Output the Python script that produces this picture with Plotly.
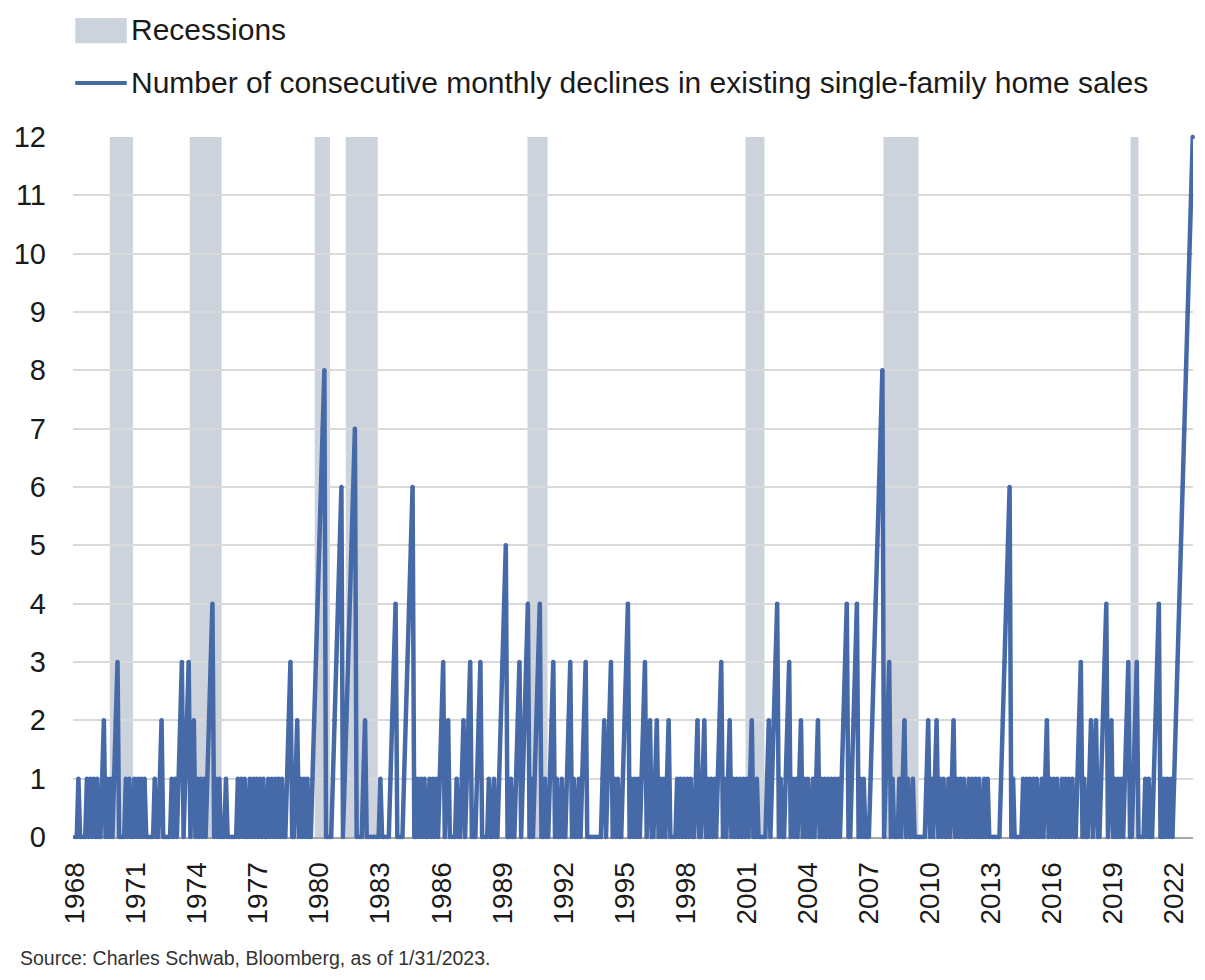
import pandas as pd
import plotly.graph_objects as go

# Number of consecutive monthly declines, Jan 1968 - Dec 2022 (one row = one year)
declines_1968_1979 = [
    0, 0, 1, 0, 0, 0, 0, 1, 0, 1, 0, 1,
    0, 1, 0, 0, 1, 2, 0, 1, 0, 1, 0, 1,
    2, 3, 0, 0, 0, 0, 1, 0, 1, 0, 0, 1,
    0, 1, 0, 1, 0, 1, 0, 0, 0, 0, 0, 1,
    0, 0, 1, 2, 0, 0, 0, 0, 0, 1, 0, 1,
    0, 1, 2, 3, 0, 1, 2, 3, 0, 1, 2, 0,
    1, 0, 1, 0, 1, 0, 1, 2, 3, 4, 0, 1,
    0, 1, 0, 0, 0, 1, 0, 0, 0, 0, 0, 0,
    1, 0, 1, 0, 1, 0, 0, 1, 0, 1, 0, 1,
    0, 1, 0, 1, 0, 0, 1, 0, 1, 0, 1, 0,
    1, 0, 1, 0, 0, 1, 2, 3, 0, 0, 1, 2,
    0, 1, 0, 1, 0, 1, 0, 0, 1, 2, 3, 4,
]
declines_1980_1989 = [
    5, 6, 7, 8, 0, 0, 0, 0, 1, 2, 3, 4,
    5, 6, 0, 1, 2, 3, 4, 5, 6, 7, 0, 0,
    0, 0, 1, 2, 0, 0, 0, 0, 0, 0, 0, 0,
    1, 0, 0, 0, 0, 0, 1, 2, 3, 4, 0, 0,
    0, 0, 1, 2, 3, 4, 5, 6, 0, 0, 1, 0,
    1, 0, 1, 0, 0, 1, 0, 1, 0, 1, 0, 1,
    2, 3, 0, 1, 2, 0, 0, 0, 0, 1, 0, 0,
    1, 2, 0, 1, 2, 3, 0, 0, 0, 1, 2, 3,
    0, 0, 0, 0, 1, 0, 0, 1, 0, 0, 1, 2,
    3, 4, 5, 0, 0, 1, 0, 0, 1, 2, 3, 0,
]
declines_1990_1999 = [
    1, 2, 3, 4, 0, 1, 0, 1, 2, 3, 4, 0,
    0, 1, 0, 0, 1, 2, 3, 0, 1, 0, 0, 1,
    0, 0, 1, 2, 3, 0, 1, 0, 0, 1, 0, 1,
    2, 3, 0, 0, 0, 0, 0, 0, 0, 0, 0, 1,
    2, 0, 1, 2, 3, 0, 1, 0, 1, 0, 0, 1,
    2, 3, 4, 0, 1, 0, 1, 0, 1, 0, 1, 2,
    3, 0, 1, 2, 0, 0, 1, 2, 0, 1, 0, 1,
    0, 1, 2, 0, 0, 0, 0, 1, 0, 1, 0, 1,
    0, 1, 0, 1, 0, 0, 1, 2, 0, 0, 1, 2,
    0, 1, 0, 1, 0, 1, 0, 1, 2, 3, 0, 1,
]
declines_2000_2009 = [
    0, 1, 2, 0, 1, 0, 1, 0, 1, 0, 1, 0,
    1, 0, 1, 2, 0, 0, 1, 0, 0, 0, 0, 0,
    1, 2, 0, 1, 2, 3, 4, 0, 1, 0, 0, 1,
    2, 3, 0, 1, 0, 1, 0, 1, 2, 0, 1, 0,
    1, 0, 0, 1, 0, 1, 2, 0, 1, 0, 1, 0,
    1, 0, 1, 0, 1, 0, 1, 0, 1, 2, 3, 4,
    0, 0, 1, 2, 3, 4, 0, 1, 0, 1, 0, 0,
    0, 1, 2, 3, 4, 5, 6, 7, 8, 0, 1, 2,
    3, 0, 1, 0, 0, 0, 1, 0, 1, 2, 0, 1,
    0, 0, 1, 0, 0, 0, 0, 0, 0, 0, 1, 2,
]
declines_2010_2022 = [
    0, 1, 0, 1, 2, 0, 1, 0, 1, 0, 0, 1,
    0, 1, 2, 0, 1, 0, 1, 0, 1, 0, 0, 1,
    0, 1, 0, 1, 0, 1, 0, 0, 1, 0, 1, 0,
    0, 0, 0, 0, 0, 0, 1, 2, 3, 4, 5, 6,
    0, 1, 0, 0, 0, 0, 0, 1, 0, 1, 0, 1,
    0, 1, 0, 1, 0, 0, 1, 0, 1, 2, 0, 1,
    0, 1, 0, 1, 0, 0, 1, 0, 1, 0, 1, 0,
    1, 0, 0, 1, 2, 3, 0, 1, 0, 0, 1, 2,
    0, 1, 2, 0, 0, 1, 2, 3, 4, 0, 1, 2,
    0, 1, 0, 1, 0, 1, 0, 1, 2, 3, 0, 0,
    1, 2, 3, 0, 0, 0, 0, 1, 0, 1, 0, 0,
    1, 2, 3, 4, 0, 0, 1, 0, 1, 0, 1, 0,
    1, 2, 3, 4, 5, 6, 7, 8, 9, 10, 11, 12,
]

declines = (declines_1968_1979 + declines_1980_1989 + declines_1990_1999
            + declines_2000_2009 + declines_2010_2022)
months = pd.date_range("1968-01-01", periods=len(declines), freq="MS")

# Recession shading as drawn on the chart
rec_start = ["1969-09-15", "1973-08-20", "1979-10-10", "1981-04-20",
             "1990-03-25", "2000-12-10", "2007-09-20", "2019-11-10"]
rec_end = ["1970-11-05", "1975-03-15", "1980-07-10", "1982-11-15",
           "1991-03-20", "2001-11-15", "2009-06-10", "2020-04-01"]

tick_years = [1968, 1971, 1974, 1977, 1980, 1983, 1986, 1989, 1992,
              1995, 1998, 2001, 2004, 2007, 2010, 2013, 2016, 2019, 2022]

BLUE = "#4669a8"
GRAY = "#cdd3dc"
FONT = "Liberation Sans, Arial, sans-serif"

fig = go.Figure()
# small round markers give the rounded joins of the original line
fig.add_trace(go.Scatter(
    x=months, y=declines, mode="lines+markers",
    line=dict(color=BLUE, width=4.5),
    marker=dict(color=BLUE, size=4.5, line_width=0),
    showlegend=False, cliponaxis=False,
    name="Number of consecutive monthly declines in existing single-family home sales",
))

for s, e in zip(rec_start, rec_end):
    fig.add_vrect(x0=s, x1=e, fillcolor=GRAY, opacity=1, line_width=0, layer="below")

# hand-made legend above the plot
fig.add_shape(type="rect", xref="paper", yref="paper", x0=0.002, x1=0.048,
              y0=1.134, y1=1.170, fillcolor=GRAY, line_width=0)
fig.add_shape(type="line", xref="paper", yref="paper", x0=0.002, x1=0.048,
              y0=1.077, y1=1.077, line=dict(color=BLUE, width=4))
fig.add_annotation(text="Recessions", xref="paper", yref="paper", x=0.050, y=1.153,
                   xanchor="left", yanchor="middle", showarrow=False,
                   font=dict(size=30, color="#1a1a1a"))
fig.add_annotation(text="Number of consecutive monthly declines in existing single-family home sales",
                   xref="paper", yref="paper", x=0.050, y=1.078,
                   xanchor="left", yanchor="middle", showarrow=False,
                   font=dict(size=30, color="#1a1a1a"))
fig.add_annotation(text="Source: Charles Schwab, Bloomberg, as of 1/31/2023.",
                   xref="paper", yref="paper", x=-0.049, y=-0.173,
                   xanchor="left", yanchor="middle", showarrow=False,
                   font=dict(size=19.5, color="#333333"))

# the page body adds 8px around the figure, so size and margins allow for it
fig.update_layout(
    width=1189, height=964,
    margin=dict(l=65, r=4, t=129, b=135),
    plot_bgcolor="white", paper_bgcolor="white",
    font=dict(family=FONT, color="#1a1a1a"),
)
fig.update_xaxes(
    range=["1967-11-25", "2022-12-05"],
    tickvals=[f"{y}-01-01" for y in tick_years],
    ticktext=[str(y) for y in tick_years],
    tickangle=-90, tickfont=dict(size=28),
    ticks="", ticklabelstandoff=12,
    showgrid=False, showline=True, linecolor="#a6a6a6", linewidth=2,
    layer="below traces",
)
fig.update_yaxes(
    range=[0, 12], dtick=1, tickfont=dict(size=29),
    showgrid=True, gridcolor="#d9d9d9", gridwidth=1.5,
    zeroline=False, ticks="", ticklabelstandoff=26,
)

fig.write_html("out.html")
